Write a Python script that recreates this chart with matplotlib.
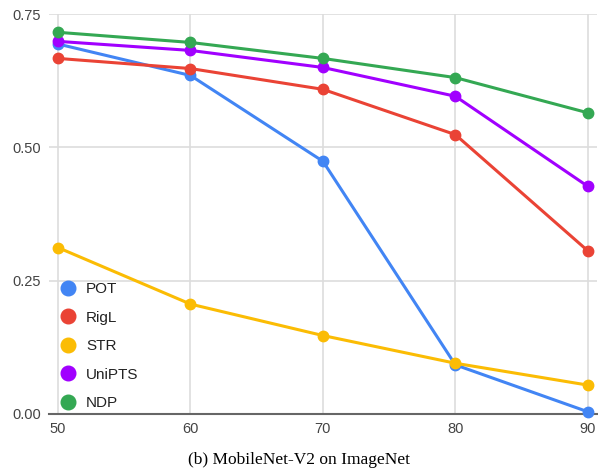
import matplotlib.pyplot as plt
from matplotlib.lines import Line2D

sparsity = [50, 60, 70, 80, 90]
methods = ["POT", "RigL", "STR", "UniPTS", "NDP"]
pot = [0.694, 0.635, 0.474, 0.092, 0.004]
rigl = [0.667, 0.648, 0.609, 0.524, 0.306]
strm = [0.312, 0.206, 0.147, 0.095, 0.054]
unipts = [0.699, 0.682, 0.650, 0.596, 0.427]
ndp = [0.716, 0.697, 0.667, 0.631, 0.565]
y_ticks = [0.0, 0.25, 0.5, 0.75]

colors = ["#4285F4", "#EA4335", "#FBBC04", "#A100FF", "#34A853"]
series = [pot, rigl, strm, unipts, ndp]

plt.rcParams['font.family'] = ['Liberation Sans', 'DejaVu Sans']

fig = plt.figure(figsize=(5.98, 4.73), dpi=100)
ax = fig.add_axes([0.082, 0.125, 0.916, 0.845])

for vals, c in zip(series, colors):
    ax.plot(sparsity, vals, color=c, lw=2.2, marker='o', ms=7.5,
            clip_on=False, zorder=3)

ax.set_xlim(49.32, 90.68)
ax.set_ylim(0, 0.75)
ax.set_xticks(sparsity)
ax.set_yticks(y_ticks)
ax.set_yticklabels(["0.00", "0.25", "0.50", "0.75"])
ax.grid(True, color="#dddddd", lw=1.2)
ax.set_axisbelow(True)
for s in ["top", "right", "left"]:
    ax.spines[s].set_visible(False)
ax.spines["bottom"].set_color("#666666")
ax.spines["bottom"].set_linewidth(1.5)
ax.spines["bottom"].set_zorder(2)
ax.tick_params(length=0, labelsize=10.5, colors="#444444", pad=6)

# legend sits inside the plot, bottom-left corner
handles = [Line2D([], [], ls='none', marker='o', ms=10.5, color=c) for c in colors]
ax.legend(handles, methods, loc='lower left', bbox_to_anchor=(-0.005, -0.025),
          frameon=False, fontsize=11, labelspacing=0.95, handlelength=1.0,
          handletextpad=0.7, labelcolor="#222222")

fig.text(0.5, 0.027, "(b) MobileNet-V2 on ImageNet", ha='center', va='center',
         fontsize=12.5, family='Liberation Serif')

fig.savefig("out.png", dpi=100)
